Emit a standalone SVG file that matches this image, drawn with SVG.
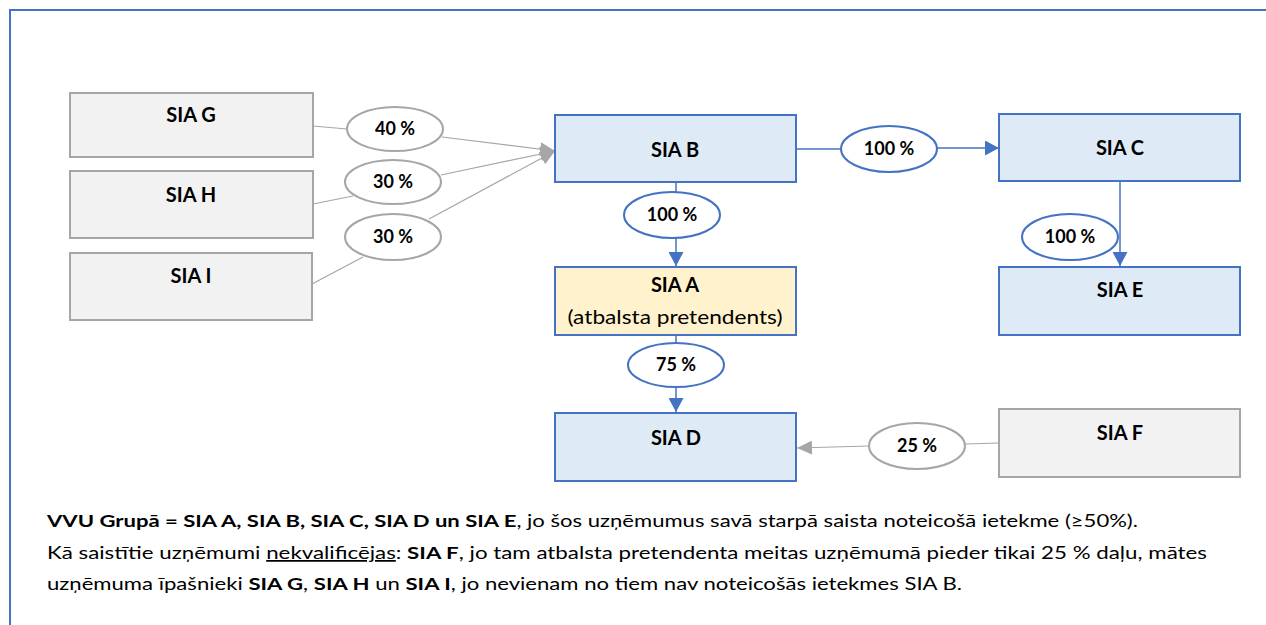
<svg xmlns="http://www.w3.org/2000/svg" width="1266" height="625" viewBox="0 0 1266 625">
<style>
  .bg{fill:#ffffff}
  .frame{fill:none;stroke:#4472C4;stroke-width:2}
  .gbox{fill:#F2F2F2;stroke:#A6A6A6;stroke-width:2}
  .bbox{fill:#DEEBF7;stroke:#4472C4;stroke-width:2}
  .ybox{fill:#FFF2CC;stroke:#4472C4;stroke-width:2}
  .gell{fill:#ffffff;stroke:#A6A6A6;stroke-width:2}
  .bell{fill:#ffffff;stroke:#4472C4;stroke-width:2}
  .gline{fill:none;stroke:#A6A6A6;stroke-width:1.2}
  .bline{fill:none;stroke:#4472C4;stroke-width:1.5}
  .lbl{font-family:Lato,"Liberation Sans",sans-serif;font-weight:bold;font-size:20px;fill:#000;text-anchor:middle}
  .sub{font-family:Lato,"Liberation Sans",sans-serif;font-weight:normal;font-size:20px;fill:#000;text-anchor:middle}
  .pct{font-family:Lato,"Liberation Sans",sans-serif;font-weight:bold;font-size:18px;fill:#000;text-anchor:middle}
  .note{font-family:Lato,"Liberation Sans",sans-serif;font-size:17.5px;fill:#000}
  .b{font-weight:bold}
  .u{text-decoration:underline}
</style>
<defs>
  <marker id="arrB" markerUnits="userSpaceOnUse" markerWidth="14" markerHeight="15" refX="14" refY="7.5" orient="auto">
    <path d="M0,0 L14,7.5 L0,15 z" fill="#4472C4"/>
  </marker>
  <marker id="arrG" markerUnits="userSpaceOnUse" markerWidth="15" markerHeight="14" refX="15" refY="7" orient="auto">
    <path d="M0,0 L15,7 L0,14 z" fill="#A6A6A6"/>
  </marker>
</defs>
<rect class="bg" x="0" y="0" width="1266" height="625"/>
<rect class="frame" x="10" y="10" width="1270" height="700"/>

<g id="connectors">
  <line class="gline" x1="313" y1="126" x2="347" y2="129"/>
  <line class="gline" x1="442" y1="137" x2="555" y2="151" marker-end="url(#arrG)"/>
  <line class="gline" x1="313" y1="204" x2="353" y2="196"/>
  <line class="gline" x1="441" y1="175" x2="555" y2="151" marker-end="url(#arrG)"/>
  <line class="gline" x1="312" y1="284" x2="363" y2="257"/>
  <line class="gline" x1="429" y1="219" x2="555" y2="151" marker-end="url(#arrG)"/>
  <line class="bline" x1="796" y1="149" x2="841" y2="149"/>
  <line class="bline" x1="937" y1="148" x2="999" y2="148" marker-end="url(#arrB)"/>
  <line class="bline" x1="676" y1="183" x2="676" y2="192"/>
  <line class="bline" x1="676" y1="238" x2="676" y2="266" marker-end="url(#arrB)"/>
  <line class="bline" x1="1120" y1="181" x2="1120" y2="266" marker-end="url(#arrB)"/>
  <line class="bline" x1="676" y1="335" x2="676" y2="343"/>
  <line class="bline" x1="676" y1="387" x2="676" y2="412" marker-end="url(#arrB)"/>
  <line class="gline" x1="999" y1="443" x2="965" y2="444"/>
  <line class="gline" x1="869" y1="446" x2="797" y2="448" marker-end="url(#arrG)"/>
</g>

<g id="node-sia-g">
  <rect class="gbox" x="70" y="93" width="243" height="64"/>
  <text class="lbl" x="191" y="122">SIA G</text>
</g>
<g id="node-sia-h">
  <rect class="gbox" x="70" y="171" width="243" height="67"/>
  <text class="lbl" x="191" y="202">SIA H</text>
</g>
<g id="node-sia-i">
  <rect class="gbox" x="70" y="253" width="242" height="67"/>
  <text class="lbl" x="191" y="283">SIA I</text>
</g>
<g id="label-40">
  <ellipse class="gell" cx="395" cy="129" rx="48" ry="22"/>
  <text class="pct" x="395" y="135">40 %</text>
</g>
<g id="label-30-h">
  <ellipse class="gell" cx="393" cy="182" rx="48" ry="22"/>
  <text class="pct" x="393" y="188">30 %</text>
</g>
<g id="label-30-i">
  <ellipse class="gell" cx="393" cy="237" rx="48" ry="23"/>
  <text class="pct" x="393" y="243">30 %</text>
</g>
<g id="node-sia-b">
  <rect class="bbox" x="555" y="115" width="241" height="67"/>
  <text class="lbl" x="675" y="157">SIA B</text>
</g>
<g id="label-100-bc">
  <ellipse class="bell" cx="889" cy="149" rx="48" ry="23"/>
  <text class="pct" x="889" y="155">100 %</text>
</g>
<g id="node-sia-c">
  <rect class="bbox" x="999" y="114" width="241" height="67"/>
  <text class="lbl" x="1120" y="155">SIA C</text>
</g>
<g id="label-100-ba">
  <ellipse class="bell" cx="672" cy="215" rx="48" ry="23"/>
  <text class="pct" x="672" y="221">100 %</text>
</g>
<g id="label-100-ce">
  <ellipse class="bell" cx="1070" cy="237" rx="48" ry="23"/>
  <text class="pct" x="1070" y="243">100 %</text>
</g>
<g id="node-sia-a">
  <rect class="ybox" x="555" y="267" width="241" height="68"/>
  <text class="lbl" x="675" y="292">SIA A</text>
  <text class="sub" x="675" y="324" textLength="215" lengthAdjust="spacingAndGlyphs">(atbalsta pretendents)</text>
</g>
<g id="node-sia-e">
  <rect class="bbox" x="999" y="267" width="241" height="68"/>
  <text class="lbl" x="1120" y="297">SIA E</text>
</g>
<g id="label-75">
  <ellipse class="bell" cx="676" cy="365" rx="48" ry="22"/>
  <text class="pct" x="676" y="371">75 %</text>
</g>
<g id="node-sia-d">
  <rect class="bbox" x="555" y="413" width="241" height="68"/>
  <text class="lbl" x="676" y="445">SIA D</text>
</g>
<g id="label-25">
  <ellipse class="gell" cx="917" cy="446" rx="48" ry="23"/>
  <text class="pct" x="917" y="452">25 %</text>
</g>
<g id="node-sia-f">
  <rect class="gbox" x="999" y="409" width="241" height="68"/>
  <text class="lbl" x="1120" y="440">SIA F</text>
</g>

<g id="notes">
  <text class="note" x="47" y="527" textLength="1091" lengthAdjust="spacingAndGlyphs"><tspan class="b">VVU Grupā = SIA A, SIA B, SIA C, SIA D un SIA E</tspan>, jo šos uzņēmumus savā starpā saista noteicošā ietekme (≥50%).</text>
  <text class="note" x="47" y="559" textLength="1160" lengthAdjust="spacingAndGlyphs">Kā saistītie uzņēmumi <tspan class="u">nekvalificējas</tspan>: <tspan class="b">SIA F</tspan>, jo tam atbalsta pretendenta meitas uzņēmumā pieder tikai 25 % daļu, mātes</text>
  <text class="note" x="47" y="590" textLength="915" lengthAdjust="spacingAndGlyphs">uzņēmuma īpašnieki <tspan class="b">SIA G</tspan>, <tspan class="b">SIA H</tspan> un <tspan class="b">SIA I</tspan>, jo nevienam no tiem nav noteicošās ietekmes SIA B.</text>
</g>
</svg>
